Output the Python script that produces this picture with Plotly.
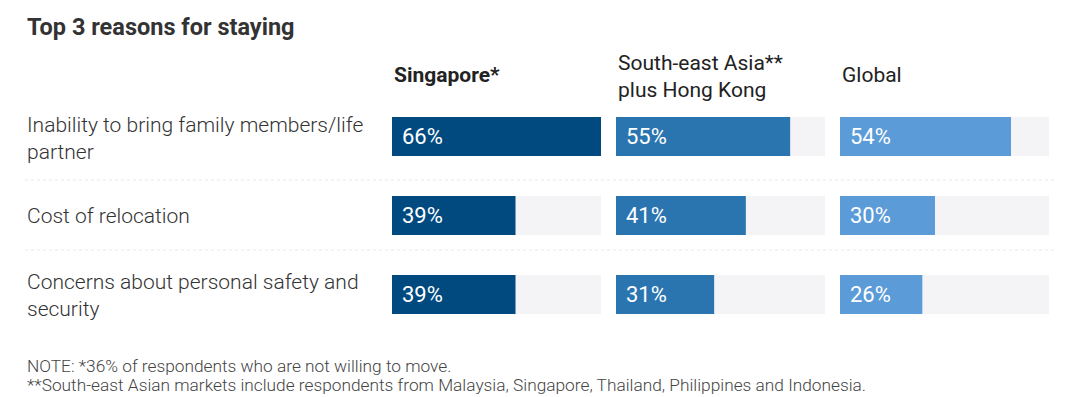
import plotly.graph_objects as go

W, H = 1080, 397
OX, OY = 8, 8  # page body margin offset

title = "Top 3 reasons for staying"
reasons = [
    "Inability to bring family members/life<br>partner",
    "Cost of relocation",
    "Concerns about personal safety and<br>security",
]
regions = ["Singapore*", "South-east Asia**<br>plus Hong Kong", "Global"]
singapore = [66, 39, 39]
sea_hk = [55, 41, 31]
global_ = [54, 30, 26]
series = [singapore, sea_hk, global_]
colors = ["#004a80", "#2a75b0", "#5b9bd8"]
scale_max = 66
notes = [
    "NOTE: *36% of respondents who are not willing to move.",
    "**South-east Asian markets include respondents from Malaysia, Singapore, Thailand, Philippines and Indonesia.",
]

FONT = "Roboto"
cats = list(range(len(reasons)))


def px(x):
    return (x - OX) / W


def py(y):
    return 1 - (y - OY) / H


fig = go.Figure()

col_px = [(392, 601), (616, 825), (840, 1049)]
y_top_px, y_bot_px = 97, 334

ann = []
for i, vals in enumerate(series):
    xa = "x" if i == 0 else f"x{i+1}"
    fig.add_trace(go.Bar(
        y=cats, x=[scale_max] * len(cats), orientation="h",
        marker=dict(color="#f4f4f6", line=dict(width=0)),
        width=0.494, xaxis=xa, yaxis="y", hoverinfo="skip", showlegend=False,
    ))
    fig.add_trace(go.Bar(
        y=cats, x=vals, orientation="h",
        marker=dict(color=colors[i], line=dict(width=0)),
        width=0.494, xaxis=xa, yaxis="y", showlegend=False,
    ))
    key = "xaxis" if i == 0 else f"xaxis{i+1}"
    fig.layout[key] = dict(
        domain=[px(col_px[i][0]), px(col_px[i][1])],
        range=[0, scale_max], visible=False, fixedrange=True,
    )
    for c, v in zip(cats, vals):
        ann.append(dict(text=f"{v}%", x=0, y=c, xref=xa, yref="y", xshift=8,
                        xanchor="left", yanchor="middle", showarrow=False,
                        font=dict(family=FONT, size=22, color="white")))

fig.update_layout(
    width=W, height=H,
    margin=dict(l=0, r=0, t=0, b=0),
    paper_bgcolor="white", plot_bgcolor="white",
    barmode="overlay",
    yaxis=dict(domain=[py(y_bot_px), py(y_top_px)],
               range=[len(cats) - 0.5, -0.5], visible=False, fixedrange=True),
    font=dict(family=FONT),
)

ann.append(dict(text=f"<b>{title}</b>", x=px(25), y=py(27), xref="paper", yref="paper",
                xanchor="left", yanchor="middle", showarrow=False,
                font=dict(family=FONT, size=23.5, color="#333333")))
hdr_y = [75, 76, 75]
for i, r in enumerate(regions):
    txt = f"<b>{r}</b>" if i == 0 else r
    ann.append(dict(text=txt, x=px(col_px[i][0]), y=py(hdr_y[i]), xref="paper", yref="paper",
                    xanchor="left", yanchor="middle", align="left", showarrow=False,
                    font=dict(family=FONT, size=21, color="#222222")))
row_shift = [-2, 0, -1]
for c, r, s in zip(cats, reasons, row_shift):
    ann.append(dict(text=r, x=px(25), y=c, xref="paper", yref="y", yshift=s,
                    xanchor="left", yanchor="middle", align="left", showarrow=False,
                    font=dict(family=FONT, size=21, color="#333333", weight=300)))
for j, n in enumerate(notes):
    ann.append(dict(text=n, x=px(25), y=py(366 + 19 * j), xref="paper", yref="paper",
                    xanchor="left", yanchor="middle", showarrow=False,
                    font=dict(family=FONT, size=17.3, color="#444444", weight=300)))
fig.update_layout(annotations=ann)

shapes = []
for ypx in (180, 250):
    shapes.append(dict(type="line", xref="paper", yref="paper",
                       x0=px(25), x1=px(1055), y0=py(ypx), y1=py(ypx),
                       line=dict(color="#e8e8e8", width=1, dash="dot")))
fig.update_layout(shapes=shapes)

fig.write_html("out.html")
